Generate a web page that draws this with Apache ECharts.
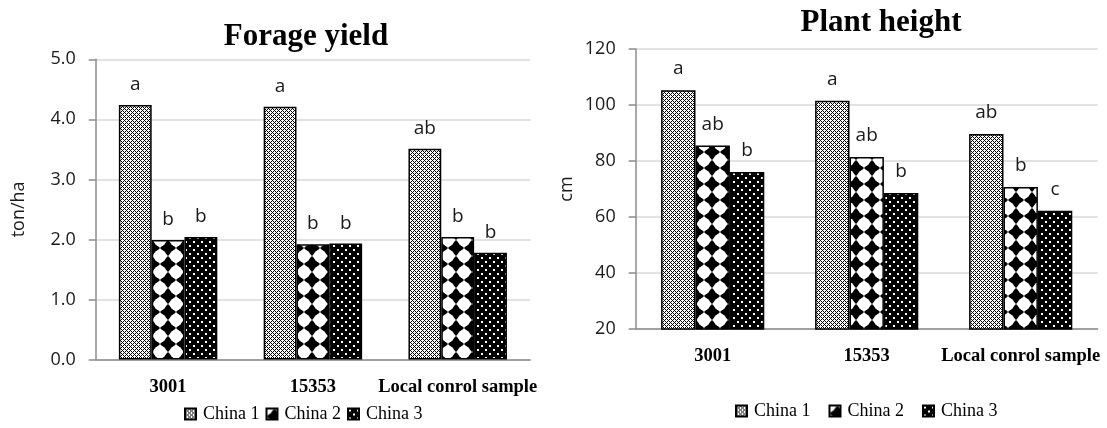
<!DOCTYPE html>
<html>
<head>
<meta charset="utf-8">
<script src="https://cdn.jsdelivr.net/npm/echarts@6/dist/echarts.min.js"></script>
<style>html,body{margin:0;padding:0;background:#fff;}#chart{width:1107px;height:428px;}</style>
</head>
<body>
<div id="chart"></div>
<script>
const categories = ['3001', '15353', 'Local conrol sample'];
const seriesNames = ['China 1', 'China 2', 'China 3'];

const yieldChina1 = [4.24, 4.21, 3.51];
const yieldChina2 = [1.99, 1.92, 2.04];
const yieldChina3 = [2.04, 1.93, 1.78];
const yieldLetters1 = ['a', 'a', 'ab'];
const yieldLetters2 = ['b', 'b', 'b'];
const yieldLetters3 = ['b', 'b', 'b'];
const yieldTicks = ['0.0', '1.0', '2.0', '3.0', '4.0', '5.0'];

const heightChina1 = [105.3, 101.5, 89.6];
const heightChina2 = [85.5, 81.4, 70.7];
const heightChina3 = [76.1, 68.6, 62.2];
const heightLetters1 = ['a', 'a', 'ab'];
const heightLetters2 = ['ab', 'ab', 'b'];
const heightLetters3 = ['b', 'b', 'c'];
const heightTicks = ['20', '40', '60', '80', '100', '120'];

function makeCanvas(w, h, draw) {
  const c = document.createElement('canvas');
  c.width = w; c.height = h;
  draw(c.getContext('2d'));
  return c;
}
const pat1 = makeCanvas(4, 4, ctx => {
  ctx.fillStyle = '#fff'; ctx.fillRect(0, 0, 4, 4);
  ctx.fillStyle = '#000';
  [[0,0],[1,1],[2,2],[3,3],[1,3],[3,1]].forEach(p => ctx.fillRect(p[0], p[1], 1, 1));
});
const pat2 = makeCanvas(16, 16, ctx => {
  ctx.fillStyle = '#fff'; ctx.fillRect(0, 0, 16, 16);
  ctx.fillStyle = '#000';
  ctx.beginPath(); ctx.moveTo(8, 0); ctx.lineTo(16, 8); ctx.lineTo(8, 16); ctx.lineTo(0, 8); ctx.closePath(); ctx.fill();
  ctx.fillStyle = '#fff';
  [[0,0],[16,0],[0,16],[16,16]].forEach(p => { ctx.beginPath(); ctx.arc(p[0], p[1], 6.3, 0, Math.PI * 2); ctx.fill(); });
});
const pat3 = makeCanvas(8, 8, ctx => {
  ctx.fillStyle = '#000'; ctx.fillRect(0, 0, 8, 8);
  ctx.fillStyle = '#fff';
  ctx.fillRect(1, 1, 2, 2); ctx.fillRect(5, 5, 2, 2);
});
const patterns = [pat1, pat2, pat3];

const sansFont = "'Open Sans', 'Noto Sans', sans-serif";
const serifFont = "'Liberation Serif', 'DejaVu Serif', serif";

function makeSeries(name, idx, values, letters, axisIdx, dist) {
  return {
    name: name,
    type: 'bar',
    xAxisIndex: axisIdx,
    yAxisIndex: axisIdx,
    data: values,
    barGap: '0%',
    barCategoryGap: axisIdx === 0 ? '32%' : '33%',
    itemStyle: {
      color: { image: patterns[idx], repeat: 'repeat' },
      borderColor: '#000',
      borderWidth: 1.5
    },
    label: {
      show: true,
      position: 'top',
      distance: dist,
      formatter: p => letters[p.dataIndex],
      fontFamily: sansFont,
      fontSize: 19,
      color: '#1a1a1a'
    },
    emphasis: { disabled: true }
  };
}

function yAxisCfg(gridIndex, ticks, name, nameGap, decimals) {
  const nums = ticks.map(Number);
  return {
    type: 'value',
    gridIndex: gridIndex,
    min: nums[0],
    max: nums[nums.length - 1],
    interval: nums[1] - nums[0],
    name: name,
    nameLocation: 'middle',
    nameGap: nameGap,
    nameTextStyle: { fontFamily: sansFont, fontSize: 18, color: '#1a1a1a' },
    axisLine: { show: true, lineStyle: { color: '#8c8c8c', width: 1.5 } },
    axisTick: { show: true, length: 7, lineStyle: { color: '#8c8c8c', width: 1.5 } },
    axisLabel: {
      margin: 20,
      fontFamily: sansFont,
      fontSize: 18,
      color: '#1a1a1a',
      formatter: v => v.toFixed(decimals)
    },
    splitLine: { show: true, lineStyle: { color: '#d9d9d9', width: 1.5 } }
  };
}

function xAxisCfg(gridIndex) {
  return {
    type: 'category',
    gridIndex: gridIndex,
    data: categories,
    axisLine: { show: true, lineStyle: { color: '#8c8c8c', width: 1.5 } },
    axisTick: { show: false },
    axisLabel: {
      interval: 0,
      margin: 18,
      fontFamily: serifFont,
      fontWeight: 'bold',
      fontSize: 18.5,
      color: '#000'
    }
  };
}

const legendBase = {
  orient: 'horizontal',
  padding: 0,
  itemWidth: 11,
  itemHeight: 11,
  icon: 'rect',
  data: seriesNames,
  textStyle: { fontFamily: serifFont, fontSize: 18, color: '#000', padding: [0, 0, 0, 2] },
  selectedMode: false
};

const option = {
  animation: false,
  backgroundColor: '#fff',
  title: [
    { text: 'Forage yield', left: 306, top: 21, padding: 0, textAlign: 'center',
      textStyle: { fontFamily: serifFont, fontWeight: 'bold', fontSize: 31, color: '#000' } },
    { text: 'Plant height', left: 881, top: 7, padding: 0, textAlign: 'center',
      textStyle: { fontFamily: serifFont, fontWeight: 'bold', fontSize: 31, color: '#000' } }
  ],
  legend: [
    Object.assign({}, legendBase, { left: 184, top: 405, itemGap: 6 }),
    Object.assign({}, legendBase, { left: 735, top: 402, itemGap: 18 })
  ],
  grid: [
    { left: 95.7, top: 59.3, width: 434.4, height: 300.2, outerBoundsMode: 'none' },
    { left: 635.7, top: 49, width: 462, height: 280, outerBoundsMode: 'none' }
  ],
  xAxis: [xAxisCfg(0), xAxisCfg(1)],
  yAxis: [
    yAxisCfg(0, yieldTicks, 'ton/ha', 68, 1),
    yAxisCfg(1, heightTicks, 'cm', 60, 0)
  ],
  series: [
    makeSeries(seriesNames[0], 0, yieldChina1, yieldLetters1, 0, 11),
    makeSeries(seriesNames[1], 1, yieldChina2, yieldLetters2, 0, 11),
    makeSeries(seriesNames[2], 2, yieldChina3, yieldLetters3, 0, 11),
    makeSeries(seriesNames[0], 0, heightChina1, heightLetters1, 1, 12),
    makeSeries(seriesNames[1], 1, heightChina2, heightLetters2, 1, 12),
    makeSeries(seriesNames[2], 2, heightChina3, heightLetters3, 1, 12)
  ]
};

const chart = echarts.init(document.getElementById('chart'), null, { renderer: 'canvas' });
chart.setOption(option);
</script>
</body>
</html>
